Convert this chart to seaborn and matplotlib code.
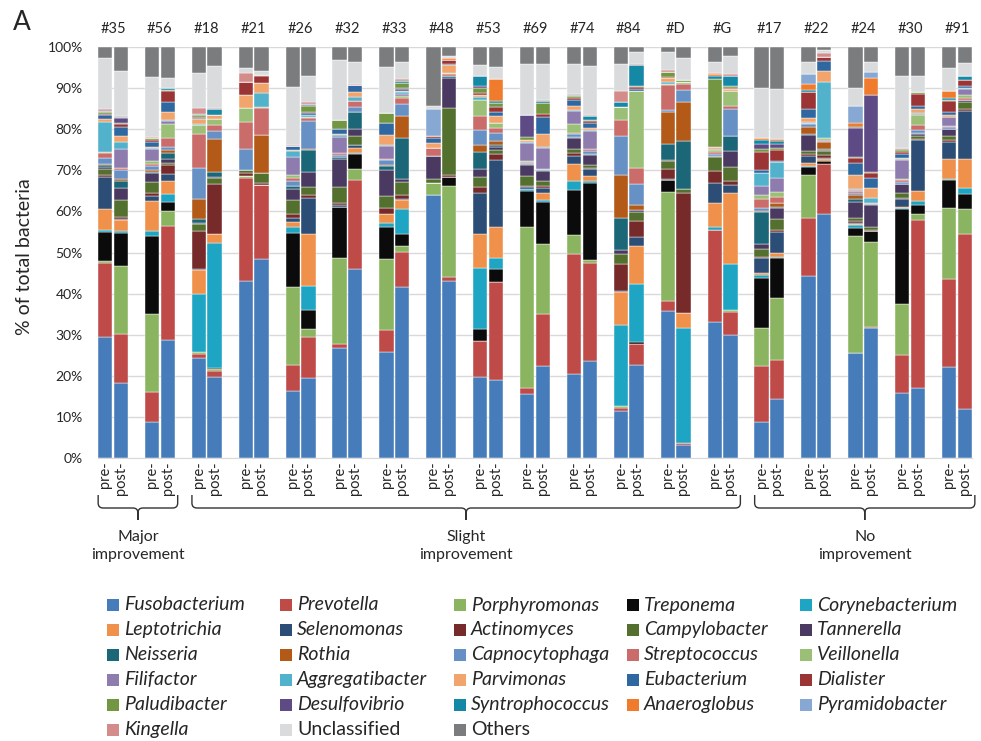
import numpy as np
import pandas as pd
import matplotlib.pyplot as plt
from matplotlib.path import Path
from matplotlib.patches import PathPatch, Rectangle
import seaborn as sns

# %% data: % of total bacteria, one value per bar (pre-/post- for each patient)
patients = ['#35', '#56', '#18', '#21', '#26', '#32', '#33', '#48', '#53', '#69',
            '#74', '#84', '#D', '#G', '#17', '#22', '#24', '#30', '#91']
timepoints = ['pre-', 'post-']
outcome_groups = [('Major\nimprovement', '#35', '#56'),
                  ('Slight\nimprovement', '#18', '#G'),
                  ('No\nimprovement', '#17', '#91')]

genera = ['Fusobacterium', 'Prevotella', 'Porphyromonas', 'Treponema', 'Corynebacterium',
          'Leptotrichia', 'Selenomonas', 'Actinomyces', 'Campylobacter', 'Tannerella',
          'Neisseria', 'Rothia', 'Capnocytophaga', 'Streptococcus', 'Veillonella',
          'Filifactor', 'Aggregatibacter', 'Parvimonas', 'Eubacterium', 'Dialister',
          'Paludibacter', 'Desulfovibrio', 'Syntrophococcus', 'Anaeroglobus', 'Pyramidobacter',
          'Kingella', 'Unclassified', 'Others']
colors = ['#477CBA', '#BE4B48', '#8BB460', '#0B0B0B', '#1FA5C4',
          '#F0914B', '#2C4D75', '#772A2A', '#54702F', '#4A3960',
          '#1B6677', '#B35A18', '#6790C5', '#C96C6A', '#9BBF77',
          '#8E7CAE', '#52B1CB', '#F2A46D', '#2F67A0', '#9B3535',
          '#739643', '#5E4A85', '#1588A5', '#F07B2C', '#86A8D2',
          '#D48C8B', '#DADBDD', '#7B7C7E']

fusobacterium = [29.3, 18.1, 8.8, 28.8, 24.4, 19.7, 43.1, 48.4, 16.2, 19.3, 26.8, 46.1, 25.8, 41.5, 64.0, 43.1, 19.7, 18.9, 15.5, 22.3, 20.4, 23.6, 11.4, 22.7, 35.8, 3.1, 33.1, 29.9, 8.8, 14.2, 44.3, 59.4, 25.4, 31.7, 15.8, 16.9, 22.2, 11.9]
prevotella = [18.1, 12.0, 7.3, 27.7, 0.8, 1.4, 25.1, 18.1, 6.5, 10.2, 0.8, 21.5, 5.3, 8.7, 0, 1.0, 8.7, 24.0, 1.6, 12.6, 29.2, 23.8, 0.8, 5.1, 2.4, 0.4, 22.4, 5.7, 13.5, 9.6, 14.2, 12.1, 0.2, 0.2, 9.2, 41.0, 21.3, 42.5]
porphyromonas = [0.5, 16.7, 19.0, 3.5, 0.5, 0.5, 0.4, 0, 18.8, 1.9, 21.1, 2.8, 17.2, 1.5, 3.0, 22.2, 0, 0, 39.0, 17.1, 4.7, 0.8, 0.5, 0, 26.6, 0, 0, 0.3, 9.4, 15.2, 10.5, 0, 28.4, 20.6, 12.4, 1.6, 17.3, 6.2]
treponema = [7.2, 7.9, 18.8, 2.4, 0.1, 0.2, 0, 0, 13.3, 4.7, 12.5, 3.7, 7.8, 2.8, 0, 2.2, 2.9, 3.1, 9.0, 10.4, 10.9, 18.8, 0, 0.5, 2.9, 0, 0, 0, 12.2, 9.7, 1.9, 0.8, 2.0, 2.7, 23.2, 2.1, 6.9, 3.7]
corynebacterium = [0.5, 0.6, 1.3, 1.9, 14.2, 30.4, 0, 0, 1.5, 5.8, 0, 0.2, 1.2, 6.1, 0, 0, 15.0, 2.7, 0.4, 0.3, 2.2, 0.5, 19.6, 14.1, 0, 28.2, 0.8, 11.2, 0.6, 0.3, 0.2, 0, 0.6, 0, 0.2, 1.0, 0.2, 1.3]
leptotrichia = [4.9, 2.5, 7.4, 3.2, 5.7, 2.3, 0, 0, 1.1, 12.6, 0, 1.2, 2.0, 2.2, 0, 0, 8.1, 7.6, 0, 1.9, 4.1, 1.1, 8.1, 9.2, 0, 3.6, 5.8, 17.4, 0.6, 0.8, 0.6, 0.6, 0.4, 0, 0.4, 2.4, 4.9, 7.3]
selenomonas = [8.0, 0.4, 1.2, 1.6, 0.2, 0, 0, 0, 1.0, 8.9, 0.3, 0.6, 0.2, 0.3, 0, 0, 10.1, 16.2, 0.5, 1.2, 2.0, 1.7, 0.3, 2.2, 0.2, 0, 4.9, 1.9, 3.6, 5.3, 1.7, 0.2, 0.2, 0, 1.8, 12.4, 4.2, 11.7]
actinomyces = [0.5, 0.5, 0.6, 2.1, 9.3, 12.2, 0.7, 0.5, 1.1, 0.6, 0.6, 0.2, 1.4, 0.8, 0, 0.3, 1.4, 1.5, 0.2, 0.3, 0.7, 0.3, 6.6, 3.8, 2.4, 29.3, 2.9, 1.0, 0.3, 0.3, 0.5, 0.6, 0.4, 0.4, 0.4, 0.3, 0.4, 0.3]
campylobacter = [1.3, 4.1, 2.9, 0.6, 1.7, 1.4, 0.8, 2.3, 3.2, 2.0, 3.8, 2.1, 2.9, 3.2, 1.0, 16.4, 2.6, 1.0, 2.5, 1.4, 1.0, 0.7, 2.4, 2.3, 2.0, 0.9, 3.3, 3.4, 1.8, 2.8, 0.9, 1.0, 0.8, 0.6, 1.2, 0.8, 1.1, 1.8]
tannerella = [0.6, 2.8, 2.0, 1.0, 0.4, 0.3, 0, 0, 2.8, 3.7, 6.8, 1.8, 6.3, 0.8, 5.6, 7.3, 1.9, 0.8, 2.6, 2.4, 2.6, 2.5, 0.8, 0.5, 0.3, 0, 0.3, 3.9, 1.3, 2.6, 3.9, 0.3, 3.9, 5.4, 2.0, 0.3, 1.5, 0.5]
neisseria = [0.4, 1.9, 0.4, 1.4, 0.8, 1.3, 0, 0, 0.6, 5.3, 0.6, 4.0, 1.0, 10.1, 0, 0.5, 4.1, 0.3, 0.2, 0.2, 0.3, 0.3, 7.9, 0, 3.8, 11.7, 0, 3.7, 7.7, 0.3, 0.2, 0.2, 0.8, 0.3, 0.2, 0.3, 0.2, 0]
rothia = [0.3, 0.3, 0.4, 0.8, 4.9, 8.0, 0, 9.3, 0, 0.2, 0, 0, 0.3, 5.3, 0, 0, 1.8, 1.1, 0, 0, 0, 0, 10.4, 1.2, 7.9, 9.4, 0, 0, 0.3, 0.9, 1.8, 1.7, 1.0, 0, 0, 0, 0, 0]
capnocytophaga = [1.4, 2.4, 1.0, 0.6, 7.7, 1.9, 5.0, 0, 1.3, 6.8, 0.4, 1.2, 1.1, 2.8, 0, 0, 3.5, 1.8, 0.3, 0.3, 0.8, 0.6, 9.6, 5.0, 0.4, 3.0, 0.6, 6.6, 0.7, 0, 0.5, 0.3, 0.3, 0, 0.4, 0.7, 0.3, 0]
streptococcus = [1.2, 0.3, 0.5, 2.2, 8.2, 1.5, 6.6, 6.5, 0.8, 0.7, 0.5, 1.5, 0.3, 1.6, 1.8, 0.4, 3.4, 1.4, 0.2, 0, 0.3, 0.6, 4.0, 4.0, 6.1, 1.5, 0.3, 0.8, 2.3, 1.6, 0.3, 0.3, 0.6, 0.2, 0.4, 1.3, 0.3, 0.4]
veillonella = [0.2, 0, 0.6, 3.5, 2.2, 1.4, 3.4, 0.3, 0.6, 0.3, 0, 0, 0, 0.4, 0, 0.4, 3.9, 1.1, 0.3, 0, 2.0, 0, 3.0, 18.7, 0.3, 0.5, 0.5, 3.6, 1.0, 1.2, 0, 0.3, 0, 0, 0.2, 2.4, 0, 0.8]
filifactor = [0, 4.8, 3.0, 0.7, 0, 0, 0, 0, 4.4, 0, 3.9, 0, 3.2, 0.5, 0, 0, 0, 0, 4.3, 5.0, 3.3, 4.4, 0, 0, 0, 0, 0.2, 0, 2.1, 3.3, 0, 0, 0.2, 0, 4.7, 0.2, 2.1, 1.4]
aggregatibacter = [7.3, 1.6, 0.2, 0.3, 0.3, 0, 0, 3.5, 1.5, 0.6, 0.6, 1.0, 0.3, 0.4, 0, 0, 0.8, 0, 0.3, 0.2, 0.2, 0.2, 0, 0, 0.4, 0, 0, 0, 3.2, 3.9, 0.3, 13.7, 0.2, 1.3, 0.2, 0.4, 0, 0.3]
parvimonas = [0.8, 1.6, 0.4, 1.9, 1.1, 1.0, 3.3, 2.5, 0.3, 0, 0.2, 1.2, 2.3, 0.4, 1.4, 1.9, 0.4, 1.8, 0.4, 3.2, 1.0, 0.4, 0, 0, 1.0, 0, 0.7, 0.4, 0, 0, 0.9, 2.8, 3.4, 2.4, 0.4, 0.9, 0.6, 0]
eubacterium = [1.0, 2.1, 1.1, 2.4, 0.3, 0, 0, 0, 1.0, 0.3, 1.1, 1.6, 2.9, 0.5, 1.2, 0.3, 0, 1.0, 0.2, 4.3, 1.5, 1.2, 0, 0.6, 0, 0, 0, 0, 0.6, 0.4, 2.3, 2.3, 3.0, 2.4, 0.8, 0.8, 0.7, 0.5]
dialister = [0.3, 0.8, 0.5, 2.7, 0.3, 0, 3.2, 1.6, 0, 0.3, 0, 0, 0, 0.3, 0.4, 0.8, 0.6, 1.2, 0, 0.6, 0.5, 0.6, 0, 0.4, 0.3, 0, 0, 0.4, 4.5, 2.6, 4.0, 1.0, 1.2, 1.1, 0.6, 2.9, 2.6, 1.4]
paludibacter = [0.4, 0.2, 0.4, 0.4, 0.3, 0, 0, 0.3, 0, 1.6, 2.4, 0, 2.4, 1.2, 0, 0, 1.3, 0.9, 0.6, 2.7, 0.4, 0.3, 0, 0.3, 1.2, 0.4, 16.5, 0.3, 0.6, 0.4, 0.2, 0, 0.3, 0.4, 0.4, 0.3, 0.3, 0]
desulfovibrio = [0, 1.2, 0, 0, 0, 0, 0, 0, 0, 0.2, 0, 0, 0, 0, 0, 0, 0.3, 0, 5.5, 0, 0, 0, 0, 0, 0, 0, 0, 0, 1.3, 1.0, 0, 0, 7.0, 18.7, 0.2, 0, 0, 0]
syntrophococcus = [0.3, 0.2, 0, 0.4, 0.4, 1.5, 0, 0, 0, 0.3, 0, 0, 0, 0.4, 0, 0, 2.4, 0.6, 0, 0.4, 0.3, 0.9, 1.3, 5.1, 0, 0, 0.6, 2.6, 1.0, 0.8, 0.4, 0, 0.2, 0, 0.2, 0, 0.6, 1.0]
anaeroglobus = [0, 0, 0, 0, 0, 0, 0, 0, 0, 0, 0, 0, 0, 0, 0, 0.5, 0, 5.3, 0, 0, 0, 0, 0, 0, 0, 0, 0.6, 0, 0.5, 0.4, 1.4, 0, 1.1, 4.0, 0.2, 0, 1.6, 0]
pyramidobacter = [0, 0, 0, 0, 0, 0, 0, 0, 0, 0, 0, 0, 0, 0, 6.6, 0, 0, 0, 0, 0, 0, 0, 0, 0, 0, 0, 0, 0, 0, 0, 2.4, 0, 4.0, 1.7, 0, 0, 0, 0]
kingella = [0.4, 0.3, 0.3, 0, 1.3, 0.3, 2.1, 0, 0.3, 0.4, 0, 0.4, 0, 0.4, 0, 0, 0.2, 0, 0, 0.4, 0.2, 0.3, 2.6, 0.3, 0.4, 0, 0.3, 0.5, 0, 0, 0.2, 1.0, 0, 0, 0, 0, 0, 0]
unclassified = [12.5, 10.9, 14.7, 2.5, 8.6, 10.1, 1.2, 0.9, 14.1, 6.3, 14.4, 5.3, 11.4, 4.1, 0.8, 0.5, 2.5, 2.8, 12.4, 8.7, 7.3, 11.9, 6.6, 2.9, 4.5, 5.3, 2.5, 4.2, 12.1, 12.2, 2.7, 0.7, 4.4, 2.4, 17.4, 4.1, 5.6, 3.1]
others = [2.6, 5.8, 7.2, 7.4, 6.3, 4.6, 5.1, 5.8, 9.6, 7.0, 3.2, 3.6, 4.7, 3.7, 14.2, 2.2, 4.4, 4.9, 4.0, 4.1, 4.1, 4.5, 4.1, 1.1, 1.1, 2.7, 3.7, 2.2, 10.0, 10.2, 3.7, 0.7, 10.0, 3.5, 7.1, 6.9, 5.1, 3.9]

series = [fusobacterium, prevotella, porphyromonas, treponema, corynebacterium,
          leptotrichia, selenomonas, actinomyces, campylobacter, tannerella,
          neisseria, rothia, capnocytophaga, streptococcus, veillonella,
          filifactor, aggregatibacter, parvimonas, eubacterium, dialister,
          paludibacter, desulfovibrio, syntrophococcus, anaeroglobus, pyramidobacter,
          kingella, unclassified, others]

# %% long table: pre/post sit in slots 3i and 3i+1, slot 3i+2 is the gap
slots = [3 * i + j for i in range(len(patients)) for j in range(len(timepoints))]
rows = []
for name, vals in zip(genera, series):
    assert len(vals) == len(slots), name
    rows += [(s, name, v) for s, v in zip(slots, vals)]
df = pd.DataFrame(rows, columns=['slot', 'genus', 'pct'])

# %%
W, H = 981, 741
def fx(x): return x / W
def fy(y): return 1 - y / H

sns.set_style('white')
plt.rcParams['font.family'] = ['Lato', 'DejaVu Sans']
plt.rcParams['text.color'] = '#262626'

fig = plt.figure(figsize=(W / 100, H / 100), dpi=100)
ax = fig.add_axes([fx(98), fy(457.7), (972 - 98) / W, (457.7 - 47.3) / H])

# last hue level ends up at the bottom of the stack
sns.histplot(data=df, x='slot', weights='pct', hue='genus', hue_order=genera[::-1],
             palette=dict(zip(genera, colors)), multiple='stack', discrete=True,
             shrink=0.915, alpha=1, edgecolor='white', linewidth=0.3,
             legend=False, ax=ax)

ax.set_xlim(-0.4575, slots[-1] + 0.4575)
ax.set_ylim(0, 100)
ax.set_yticks(range(0, 101, 10))
ax.set_yticklabels([f'{v}%' for v in range(0, 101, 10)], fontsize=10)
ax.set_xticks(slots)
ax.set_xticklabels(timepoints * len(patients), rotation=90, fontsize=10.5)
ax.tick_params(axis='y', length=0, pad=11)
ax.tick_params(axis='x', length=0, pad=3)
ax.set_xlabel('')
ax.set_ylabel('')
ax.yaxis.grid(True, color='#D9D9D9', linewidth=1)
ax.set_axisbelow(True)
sns.despine(ax=ax, left=True)
ax.spines['bottom'].set_color('#D9D9D9')

for i, p in enumerate(patients):
    ax.text(3 * i + 0.5, 1.0446, p, transform=ax.get_xaxis_transform(),
            ha='center', va='center', fontsize=10.5)

fig.text(fx(22), fy(22), 'A', ha='center', va='center', fontsize=19)
fig.text(fx(25), fy(257), '% of total bacteria', rotation=90,
         ha='center', va='center', fontsize=14)

# braces under the patient groups
slot_px = (972 - 98) / (slots[-1] + 0.915)
def slot_to_px(s): return 98 + (s + 0.4575) * slot_px

def brace(x0, x1, top=495, mid=508, tip=520, r=5):
    xm = (x0 + x1) / 2
    verts = [(x0, top), (x0, mid - r), (x0, mid), (x0 + r, mid), (xm - r, mid), (xm, mid), (xm, mid + r), (xm, tip),
             (x1, top), (x1, mid - r), (x1, mid), (x1 - r, mid), (xm + r, mid), (xm, mid), (xm, mid + r), (xm, tip)]
    codes = [Path.MOVETO, Path.LINETO, Path.CURVE3, Path.CURVE3, Path.LINETO, Path.CURVE3, Path.CURVE3, Path.LINETO] * 2
    verts = [(fx(x), fy(y)) for x, y in verts]
    fig.add_artist(PathPatch(Path(verts, codes), transform=fig.transFigure, fill=False,
                             edgecolor='#333333', linewidth=1.0))
    return xm

for label, first, last in outcome_groups:
    x0 = slot_to_px(3 * patients.index(first)) - 8
    x1 = slot_to_px(3 * patients.index(last) + 1) + 14
    xm = brace(x0 + 1, x1 - 4)
    fig.text(fx(xm), fy(546), label, ha='center', va='center', fontsize=11.5, linespacing=1.3)

# legend, 5 columns, row-major like the original
leg_x = [107, 280, 454, 627, 800]
for k, (name, col) in enumerate(zip(genera, colors)):
    r, c = divmod(k, 5)
    x, y = leg_x[c], 605 + 24.9 * r
    fig.add_artist(Rectangle((fx(x), fy(y + 6)), 12 / W, 12 / H, transform=fig.transFigure,
                             facecolor=col, edgecolor='none'))
    fig.text(fx(x + 17), fy(y), name, ha='left', va='center', fontsize=14,
             style='normal' if name in ('Unclassified', 'Others') else 'italic')

plt.savefig('out.png', dpi=100)
